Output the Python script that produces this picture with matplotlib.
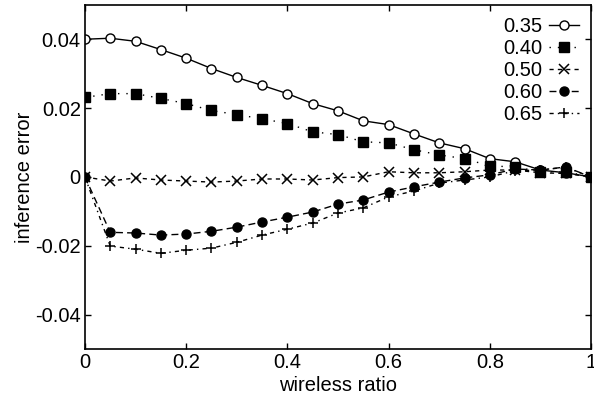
import matplotlib
matplotlib.use('Agg')
import matplotlib.pyplot as plt
from matplotlib.ticker import FixedLocator, FixedFormatter

plt.rcParams['font.family'] = ['Liberation Sans', 'DejaVu Sans']
plt.rcParams['axes.unicode_minus'] = False

# 数据
ratio = [0.0, 0.05, 0.1, 0.15, 0.2, 0.25, 0.3, 0.35, 0.4, 0.45, 0.5,
         0.55, 0.6, 0.65, 0.7, 0.75, 0.8, 0.85, 0.9, 0.95, 1.0]
err_035 = [0.0400, 0.0403, 0.0394, 0.0370, 0.0345, 0.0315, 0.0289, 0.0266, 0.0242, 0.0213, 0.0192,
           0.0163, 0.0152, 0.0125, 0.0099, 0.0082, 0.0053, 0.0044, 0.0020, 0.0012, 0.0]
err_040 = [0.0231, 0.0242, 0.0242, 0.0228, 0.0213, 0.0193, 0.0181, 0.0169, 0.0155, 0.0131, 0.0123,
           0.0102, 0.0099, 0.0079, 0.0064, 0.0053, 0.0032, 0.0029, 0.0015, 0.0015, 0.0]
err_050 = [0.0, -0.0012, -0.0003, -0.0009, -0.0012, -0.0015, -0.0012, -0.0006, -0.0006, -0.0009, -0.0002,
           0.0, 0.0015, 0.0012, 0.0012, 0.0015, 0.0020, 0.0020, 0.0012, 0.0010, 0.0]
err_060 = [0.0, -0.0161, -0.0163, -0.0169, -0.0166, -0.0158, -0.0146, -0.0131, -0.0117, -0.0102, -0.0079,
           -0.0067, -0.0044, -0.0029, -0.0015, -0.0003, 0.0006, 0.0023, 0.0020, 0.0029, 0.0]
err_065 = [0.0, -0.0201, -0.0210, -0.0222, -0.0213, -0.0207, -0.0190, -0.0169, -0.0152, -0.0134, -0.0105,
           -0.0090, -0.0058, -0.0041, -0.0018, -0.0009, 0.0, 0.0018, 0.0020, 0.0028, 0.0]
labels = ['0.35', '0.40', '0.50', '0.60', '0.65']

xticks = [0, 0.2, 0.4, 0.6, 0.8, 1.0]
xticklabels = ['0', '0.2', '0.4', '0.6', '0.8', '1']
yticks = [-0.04, -0.02, 0, 0.02, 0.04]
yticklabels = ['-0.04', '-0.02', '0', '0.02', '0.04']

fs = 14.5
fig = plt.figure(figsize=(5.94, 4.03), dpi=100)
ax = fig.add_axes([0.143, 0.134, 0.852, 0.854])

lw = 1.0
ax.plot(ratio, err_035, color='black', lw=lw, linestyle='-', marker='o',
        markerfacecolor='white', markeredgecolor='black', markersize=6.5, label=labels[0])
ax.plot(ratio, err_040, color='black', lw=lw, linestyle=(0, (1, 5)), marker='s',
        markerfacecolor='black', markersize=6.5, label=labels[1])
ax.plot(ratio, err_050, color='black', lw=lw, linestyle=(0, (3, 3)), marker='x',
        markersize=6.5, markeredgewidth=1.1, label=labels[2])
ax.plot(ratio, err_060, color='black', lw=lw, linestyle=(0, (5, 3)), marker='o',
        markerfacecolor='black', markersize=6.5, label=labels[3])
ax.plot(ratio, err_065, color='black', lw=lw, linestyle=(0, (3, 3, 1, 3)), marker='+',
        markersize=7.5, markeredgewidth=1.1, label=labels[4])

ax.set_xlim(0, 1)
ax.set_ylim(-0.05, 0.05)
ax.xaxis.set_major_locator(FixedLocator(xticks))
ax.xaxis.set_major_formatter(FixedFormatter(xticklabels))
ax.yaxis.set_major_locator(FixedLocator(yticks))
ax.yaxis.set_major_formatter(FixedFormatter(yticklabels))
ax.tick_params(direction='in', top=True, right=True, length=4, width=1, labelsize=fs, pad=3)
for s in ax.spines.values():
    s.set_linewidth(1.2)

ax.set_xlabel('wireless ratio', fontsize=fs, labelpad=3)
ax.set_ylabel('inference error', fontsize=fs, labelpad=1)

leg = ax.legend(loc='upper right', markerfirst=False, frameon=False, fontsize=fs,
                handlelength=1.5, handletextpad=0.3, labelspacing=0.15,
                borderaxespad=0.2)

plt.savefig('out.png', dpi=100)
